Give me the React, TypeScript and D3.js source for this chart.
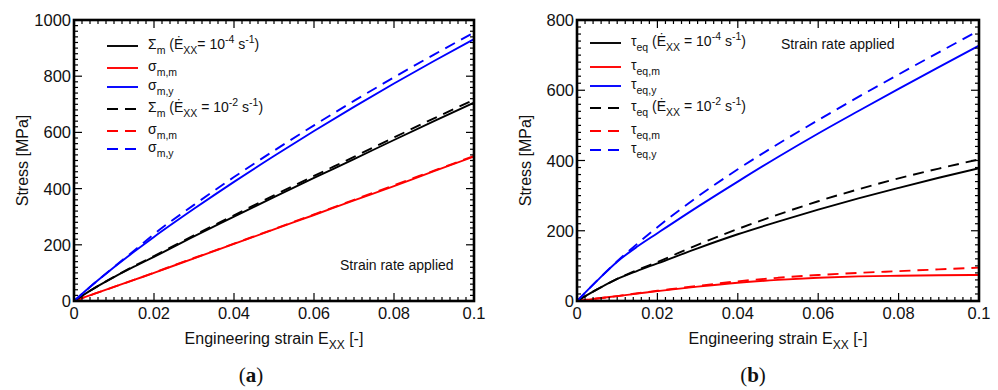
import React from "react";
import * as d3 from "d3";

const strain = [0, 0.005, 0.01, 0.015, 0.02, 0.03, 0.04, 0.05, 0.06, 0.07, 0.08, 0.09, 0.1];

// Panel (a)
const sigmaM_slow = [0, 45, 85, 122, 157, 230, 300, 370, 438, 505, 573, 640, 706];
const sigmaMM_slow = [0, 25, 50, 75, 100, 152, 203, 255, 306, 358, 409, 462, 514];
const sigmaMY_slow = [0, 62, 120, 175, 228, 328, 424, 516, 605, 691, 774, 854, 932];
const sigmaM_fast = [0, 45, 86, 124, 160, 234, 305, 376, 445, 513, 582, 650, 716];
const sigmaMM_fast = [0, 25, 50, 75, 101, 153, 204, 256, 308, 360, 412, 464, 516];
const sigmaMY_fast = [0, 62, 121, 179, 238, 342, 441, 535, 625, 712, 796, 877, 955];

// Panel (b)
const tauEq_slow = [0, 33, 63, 86, 107, 150, 190, 226, 260, 292, 322, 351, 378];
const tauEqM_slow = [0, 7, 14, 21, 28, 41, 52, 60, 66, 70, 72, 73.5, 74];
const tauEqY_slow = [0, 58, 112, 155, 193, 268, 340, 410, 477, 541, 604, 666, 727];
const tauEq_fast = [0, 33, 63, 88, 111, 160, 205, 246, 284, 318, 349, 377, 403];
const tauEqM_fast = [0, 7, 14, 22, 29, 43, 56, 66, 74, 80, 85, 90, 95];
const tauEqY_fast = [0, 58, 113, 163, 210, 297, 375, 447, 515, 581, 645, 708, 770];

const xTicks = [0, 0.02, 0.04, 0.06, 0.08, 0.1];
const xTickLabels = ["0", "0.02", "0.04", "0.06", "0.08", "0.1"];
const yTicksA = [0, 200, 400, 600, 800, 1000];
const yTicksB = [0, 200, 400, 600, 800];

const FONT = "'Liberation Sans', Arial, Helvetica, sans-serif";

type Series = { values: number[]; color: string; dashed: boolean };

type LegendEntry = { main: string; sub: string; rate?: string; color: string; dashed: boolean; eqSpace: boolean };

function Panel(props: {
  left: number; right: number; top: number; bottom: number; yMax: number; yTicks: number[];
  series: Series[]; legend: LegendEntry[]; legendX: number; legendYs: number[];
  note: { x: number; y: number }; label: string; labelX: number;
}) {
  const { left, right, top, bottom, yMax, yTicks, series, legend, legendX, legendYs, note, label, labelX } = props;
  const x = d3.scaleLinear().domain([0, 0.1]).range([left, right]);
  const y = d3.scaleLinear().domain([0, yMax]).range([bottom, top]);
  const line = d3.line<number>().x((_, i) => x(strain[i])).y((v) => y(v)).curve(d3.curveMonotoneX);
  const minorX = d3.range(0, 0.1001, 0.002);
  const minorY = d3.range(0, yMax + 0.1, 20);
  const cx = (left + right) / 2;
  const cy = (top + bottom) / 2;
  return (
    <g>
      <defs>
        <clipPath id={"clip" + label}>
          <rect x={left} y={top} width={right - left} height={bottom - top} />
        </clipPath>
      </defs>
      <g clipPath={`url(#clip${label})`}>
        {series.map((s, i) => (
          <path key={i} d={line(s.values) || ""} fill="none" stroke={s.color} strokeWidth={1.9}
            strokeDasharray={s.dashed ? "11,7" : undefined} />
        ))}
      </g>
      {minorX.map((t, i) => {
        const major = xTicks.some((m) => Math.abs(m - t) < 1e-9);
        const len = major ? 8 : 4;
        return (
          <g key={"mx" + i} stroke="#000" strokeWidth={1.2}>
            <line x1={x(t)} x2={x(t)} y1={bottom} y2={bottom - len} />
            <line x1={x(t)} x2={x(t)} y1={top} y2={top + len} />
          </g>
        );
      })}
      {minorY.map((t, i) => {
        const major = yTicks.some((m) => Math.abs(m - t) < 1e-9);
        const len = major ? 8 : 4;
        return (
          <g key={"my" + i} stroke="#000" strokeWidth={1.2}>
            <line x1={left} x2={left + len} y1={y(t)} y2={y(t)} />
            <line x1={right} x2={right - len} y1={y(t)} y2={y(t)} />
          </g>
        );
      })}
      <rect x={left} y={top} width={right - left} height={bottom - top} fill="none" stroke="#000" strokeWidth={2.6} />
      {xTicks.map((t, i) => (
        <text key={"xl" + i} x={x(t)} y={bottom + 18} textAnchor="middle" fontSize={16.5} fontFamily={FONT} fill="#111">
          {xTickLabels[i]}
        </text>
      ))}
      {yTicks.map((t, i) => (
        <text key={"yl" + i} x={left - 3} y={y(t) + 6} textAnchor="end" fontSize={16.5} fontFamily={FONT} fill="#111">
          {t}
        </text>
      ))}
      <text x={cx} y={bottom + 43} textAnchor="middle" fontSize={16} fontFamily={FONT} fill="#111">
        Engineering strain E<tspan fontSize={12} dy={5}>XX</tspan><tspan dy={-5}> [-]</tspan>
      </text>
      <text transform={`translate(${left - 46},${cy}) rotate(-90)`} textAnchor="middle" fontSize={16} fontFamily={FONT} fill="#111">
        Stress [MPa]
      </text>
      {legend.map((e, i) => (
        <g key={"lg" + i}>
          <line x1={legendX} x2={legendX + 31} y1={legendYs[i]} y2={legendYs[i]} stroke={e.color} strokeWidth={1.9}
            strokeDasharray={e.dashed ? "11,7" : undefined} />
          <text x={legendX + 41} y={legendYs[i] + 3} fontSize={14} fontFamily={FONT} fill="#111">
            {e.main}
            <tspan fontSize={10.5} dy={5}>{e.sub}</tspan>
            {e.rate ? (
              <>
                <tspan dy={-5}>{" (Ė"}</tspan>
                <tspan fontSize={10.5} dy={5}>XX</tspan>
                <tspan dy={-5}>{e.eqSpace ? " = 10" : "= 10"}</tspan>
                <tspan fontSize={10.5} dy={-6}>{e.rate}</tspan>
                <tspan dy={6}>{" s"}</tspan>
                <tspan fontSize={10.5} dy={-6}>-1</tspan>
                <tspan dy={6}>)</tspan>
              </>
            ) : null}
          </text>
        </g>
      ))}
      <text x={note.x} y={note.y} fontSize={14} fontFamily={FONT} fill="#111">Strain rate applied</text>
      <text x={labelX} y={382} textAnchor="middle" fontSize={21} fontFamily="'Liberation Serif', 'DejaVu Serif', serif" fill="#111">
        (<tspan fontWeight="bold">{label}</tspan>)
      </text>
    </g>
  );
}

export default function App() {
  const seriesA: Series[] = [
    { values: sigmaMM_slow, color: "#ff0000", dashed: false },
    { values: sigmaMM_fast, color: "#ff0000", dashed: true },
    { values: sigmaM_slow, color: "#000000", dashed: false },
    { values: sigmaM_fast, color: "#000000", dashed: true },
    { values: sigmaMY_slow, color: "#0000ff", dashed: false },
    { values: sigmaMY_fast, color: "#0000ff", dashed: true },
  ];
  const seriesB: Series[] = [
    { values: tauEqM_slow, color: "#ff0000", dashed: false },
    { values: tauEqM_fast, color: "#ff0000", dashed: true },
    { values: tauEq_slow, color: "#000000", dashed: false },
    { values: tauEq_fast, color: "#000000", dashed: true },
    { values: tauEqY_slow, color: "#0000ff", dashed: false },
    { values: tauEqY_fast, color: "#0000ff", dashed: true },
  ];
  const legendA: LegendEntry[] = [
    { main: "Σ", sub: "m", rate: "-4", color: "#000", dashed: false, eqSpace: false },
    { main: "σ", sub: "m,m", color: "#ff0000", dashed: false, eqSpace: false },
    { main: "σ", sub: "m,y", color: "#0000ff", dashed: false, eqSpace: false },
    { main: "Σ", sub: "m", rate: "-2", color: "#000", dashed: true, eqSpace: true },
    { main: "σ", sub: "m,m", color: "#ff0000", dashed: true, eqSpace: false },
    { main: "σ", sub: "m,y", color: "#0000ff", dashed: true, eqSpace: false },
  ];
  const legendB: LegendEntry[] = [
    { main: "τ", sub: "eq", rate: "-4", color: "#000", dashed: false, eqSpace: true },
    { main: "τ", sub: "eq,m", color: "#ff0000", dashed: false, eqSpace: false },
    { main: "τ", sub: "eq,y", color: "#0000ff", dashed: false, eqSpace: false },
    { main: "τ", sub: "eq", rate: "-2", color: "#000", dashed: true, eqSpace: true },
    { main: "τ", sub: "eq,m", color: "#ff0000", dashed: true, eqSpace: false },
    { main: "τ", sub: "eq,y", color: "#0000ff", dashed: true, eqSpace: false },
  ];
  return (
    <svg width={998} height={390} style={{ position: "absolute", left: 0, top: 0, background: "#fff" }}>
      <rect width={998} height={390} fill="#fff" />
      <Panel left={74} right={474} top={20} bottom={301} yMax={1000} yTicks={yTicksA} series={seriesA}
        legend={legendA} legendX={107} legendYs={[46, 68, 87, 109, 131, 149]} note={{ x: 340, y: 270 }} label="a" labelX={251} />
      <Panel left={577} right={979} top={20} bottom={301} yMax={800} yTicks={yTicksB} series={seriesB}
        legend={legendB} legendX={590} legendYs={[43, 67, 86, 108, 131, 150]} note={{ x: 781, y: 49 }} label="b" labelX={753} />
    </svg>
  );
}
